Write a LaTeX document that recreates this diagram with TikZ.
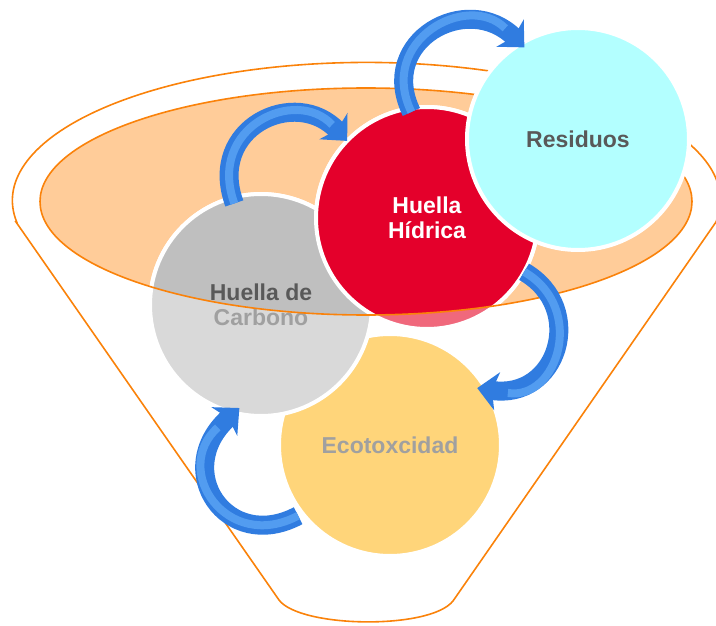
\documentclass[tikz,border=0pt]{standalone}
\usepackage{fontspec}
\setmainfont{Liberation Sans}
\usetikzlibrary{arrows.meta}

\definecolor{rimorange}{RGB}{250,130,10}
\definecolor{peach}{RGB}{255,204,153}
\definecolor{grayfade}{RGB}{217,217,217}
\definecolor{graydark}{RGB}{191,191,191}
\definecolor{redfade}{RGB}{240,104,124}
\definecolor{reddark}{RGB}{228,0,43}
\definecolor{ecoyellow}{RGB}{255,213,122}
\definecolor{rescyan}{RGB}{179,255,255}
\definecolor{txtdark}{RGB}{89,89,89}
\definecolor{txtfade}{RGB}{160,160,160}
\definecolor{arrowblue}{RGB}{48,124,224}
\definecolor{arrowhi}{RGB}{82,156,240}

\begin{document}
\begin{tikzpicture}[x=1pt,y=1pt,
    disc/.style={circle, draw=white, line width=4pt, minimum size=222pt, inner sep=0pt, outer sep=0pt},
    disctext/.style={align=center, font=\bfseries\fontsize{23}{25}\selectfont},
    rim/.style={draw=rimorange, line width=1.6pt},
    cyclearrow/.style={draw=arrowblue, line width=19pt,
        -{Stealth[length=20pt,width=38pt,inset=5pt]},
        postaction={draw=arrowhi, line width=8pt, shorten >=22pt, -}}]
\useasboundingbox (0,0) rectangle (716,-626);

% funnel
\draw[rim] (16,-222) -- (279,-600) .. controls (300,-628) and (430,-630) .. (453,-601)
    -- (716,-222) arc[start angle=-9, end angle=189, x radius=354, y radius=138] -- cycle;
\fill[peach] (366,-201.5) ellipse[x radius=326, y radius=113.5];

% circles
\node[disc, fill=ecoyellow, disctext, text=txtfade] (ecotox) at (390,-445) {Ecotoxcidad};
\node[disc, fill=grayfade] (carbono) at (261,-305) {};
\node[disc, fill=redfade] (hidrica) at (427,-218) {};
\begin{scope}
    \clip (366,-201.5) ellipse[x radius=326, y radius=113.5];
    \filldraw[draw=white, line width=4pt, fill=graydark] (carbono.center) circle[radius=111];
    \filldraw[draw=white, line width=4pt, fill=reddark] (hidrica.center) circle[radius=111];
\end{scope}
\node[disctext, text=txtdark] (carbono-txt) at (carbono) {Huella de\\\textcolor{txtfade}{Carbono}};
\node[disctext, text=white] (hidrica-txt) at (hidrica) {Huella\\Hídrica};
\draw[rim] (366,-201.5) ellipse[x radius=326, y radius=113.5];
\node[disc, fill=rescyan, disctext, text=txtdark] (residuos) at (578,-139) {Residuos};

% arrows
\draw[cyclearrow, shorten <=-6pt] (carbono.105) to[out=110, in=133, looseness=1.5] (hidrica.136);
\draw[cyclearrow, shorten <=-4pt, shorten >=-5pt] (hidrica.99) to[out=116, in=135, looseness=1.5] (residuos.121);
\draw[cyclearrow, shorten >=-9pt] (hidrica.-29) to[out=-30, in=-9, looseness=1.5] (ecotox.30);
\draw[cyclearrow, shorten <=5pt, shorten >=-7pt] (ecotox.218) to[out=-152, in=222, looseness=1.8] (carbono.256);
\end{tikzpicture}
\end{document}
